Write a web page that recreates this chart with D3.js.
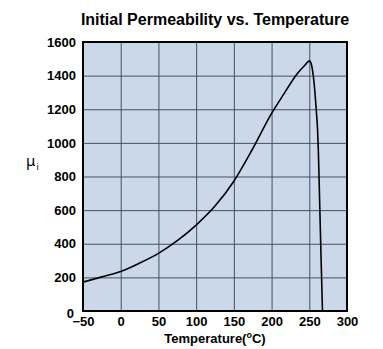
<!DOCTYPE html>
<html><head><meta charset="utf-8">
<script src="https://cdn.jsdelivr.net/npm/d3@7"></script>
<style>body{margin:0;background:#fff}svg{display:block}</style>
</head><body>
<svg id="c" width="383" height="349"></svg>
<script>
const titleText = "Initial Permeability vs. Temperature";
const xTicks = [-50, 0, 50, 100, 150, 200, 250, 300];
const yTicks = [0, 200, 400, 600, 800, 1000, 1200, 1400, 1600];
const temperature = [-50, -25, 0, 25, 50, 75, 100, 125, 150, 175, 200, 217, 234, 245, 250, 252, 254, 256.5, 259, 261, 262, 264, 266, 267.5];
const permeability = [172, 203, 235, 285, 343, 418, 511, 624, 772, 965, 1175, 1296, 1411, 1466, 1488, 1478, 1440, 1350, 1210, 1075, 956, 602, 250, 0];

const svg = d3.select("#c");
const L = 83, R = 347, T = 42, B = 311;
const x = d3.scaleLinear().domain([-50, 300]).range([L, R]);
const y = d3.scaleLinear().domain([0, 1600]).range([B, T]);
const font = "'Liberation Sans', Arial, sans-serif";

svg.append("rect").attr("x", L).attr("y", T).attr("width", R - L).attr("height", B - T).attr("fill", "#cad8ea");

const g = svg.append("g");
g.selectAll(".vx").data(xTicks.slice(1, -1)).join("line")
  .attr("x1", d => x(d) + 0.5).attr("x2", d => x(d) + 0.5).attr("y1", T).attr("y2", B)
  .attr("stroke", "#46505c").attr("stroke-width", 1);
g.selectAll(".hy").data(yTicks.slice(1, -1)).join("line")
  .attr("y1", d => y(d) + 0.5).attr("y2", d => y(d) + 0.5).attr("x1", L).attr("x2", R)
  .attr("stroke", "#46505c").attr("stroke-width", 1);

svg.append("path").datum(temperature.map((t, i) => [t, permeability[i]]))
  .attr("d", d3.line().x(d => x(d[0])).y(d => y(d[1])).curve(d3.curveMonotoneX))
  .attr("fill", "none").attr("stroke", "#000").attr("stroke-width", 1.6);

svg.append("rect").attr("x", L).attr("y", T).attr("width", R - L).attr("height", B - T)
  .attr("fill", "none").attr("stroke", "#000").attr("stroke-width", 2);

const xAxis = d3.axisBottom(x).tickValues(xTicks).tickSize(0).tickPadding(6).tickFormat(d3.format("d"));
const xa = svg.append("g").attr("transform", `translate(0,${B})`).call(xAxis);
xa.select(".domain").remove();
xa.selectAll("text").attr("font-family", font).attr("font-size", 13).attr("font-weight", "bold").attr("fill", "#000");

const yAxis = d3.axisLeft(y).tickValues(yTicks).tickSize(0).tickPadding(7).tickFormat(d3.format("d"));
const ya = svg.append("g").attr("transform", `translate(${L},0)`).call(yAxis);
ya.select(".domain").remove();
ya.selectAll("text").attr("font-family", font).attr("font-size", 13).attr("font-weight", "bold").attr("fill", "#000");
ya.selectAll(".tick").filter(d => d === 0).select("text").attr("dy", "0.5em").attr("x", -9);

svg.append("text").attr("x", (L + R) / 2).attr("y", 25).attr("text-anchor", "middle")
  .attr("font-family", font).attr("font-size", 16).attr("font-weight", "bold").attr("fill", "#000").text(titleText);

const xt = svg.append("text").attr("x", (L + R) / 2).attr("y", 343).attr("text-anchor", "middle")
  .attr("font-family", font).attr("font-size", 13).attr("font-weight", "bold").attr("fill", "#000");
xt.append("tspan").text("Temperature(");
xt.append("tspan").attr("dy", -5).attr("font-size", 9).text("o");
xt.append("tspan").attr("dy", 5).text("C)");

const mu = svg.append("text").attr("x", 26).attr("y", 166)
  .style("font-family", "'Noto Sans', sans-serif").style("font-size", "15px").style("fill", "#000");
mu.append("tspan").style("fill", "#000").text("\u03BC");
mu.append("tspan").attr("dy", 4).attr("dx", 1).style("font-size", "9px").style("fill", "#000").text("i");
</script>
</body></html>
